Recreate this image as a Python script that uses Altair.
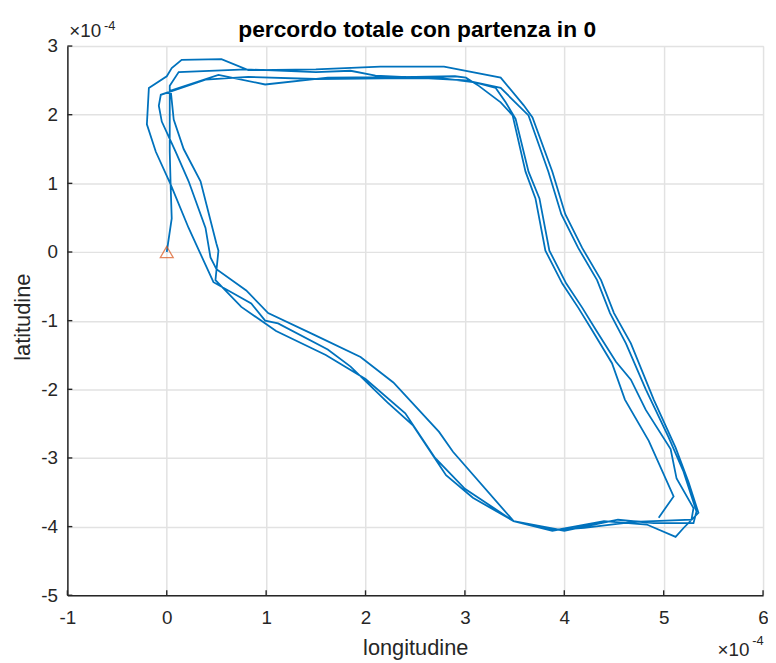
import altair as alt
import pandas as pd

# trajectory (units of 1e-4 degrees)
lon = [
    0.00, 0.05, 0.04, 0.03, 0.03, 0.03,
    0.12, 0.80, 1.50, 1.85, 2.10, 2.78, 3.01, 3.36,
    3.64, 3.84, 3.97, 4.14, 4.33, 4.46, 4.62, 4.82, 5.05, 5.20, 5.33,
    5.30, 4.90, 4.54, 4.00, 3.49,
    3.08, 2.81, 2.48, 2.22, 1.85, 1.62, 1.12, 0.99, 0.85, 0.47,
    0.22, 0.04, -0.11, -0.20, -0.18, 0.00, 0.05,
    0.15, 0.55, 0.82, 1.50, 2.15, 2.79, 3.36,
    3.59, 3.68, 3.88, 4.01, 4.18, 4.37, 4.50, 4.67, 4.90, 5.12, 5.25, 5.35,
    5.20, 5.12, 4.83, 4.40, 3.88, 3.49,
    2.88, 2.74, 2.28, 1.95, 1.49, 1.02, 0.80, 0.50,
    0.44, 0.39, 0.22, 0.09, -0.05, -0.08, -0.06,
    0.39, 0.82, 1.50, 2.20, 2.78, 3.10, 3.31,
    3.41, 3.51, 3.64, 3.75, 3.85, 4.02, 4.18, 4.32, 4.52, 4.67, 4.82, 5.07, 5.13, 5.30,
    5.28, 4.70, 4.20, 3.90, 3.49,
    3.00, 2.70, 2.40, 2.00, 1.60, 1.10, 0.75, 0.49,
    0.52, 0.50, 0.34, 0.17, 0.07, 0.04,
    0.52, 0.99, 1.62, 2.50, 2.90, 3.01,
    3.14, 3.36, 3.48, 3.61, 3.71, 3.81, 3.98, 4.14, 4.28, 4.48, 4.61, 4.85, 5.10, 4.95,
]
lat = [
    0.00, 0.49, 0.93, 1.46, 2.00, 2.42,
    2.62, 2.66, 2.62, 2.64, 2.57, 2.52, 2.50, 2.39,
    1.99, 1.17, 0.55, 0.06, -0.41, -0.89, -1.33, -2.00, -2.70, -3.20, -3.78,
    -3.95, -3.95, -3.90, -4.06, -3.92,
    -3.58, -3.25, -2.53, -2.19, -1.67, -1.42, -1.04, -1.00, -0.75, -0.44,
    0.35, 0.98, 1.46, 1.86, 2.39, 2.56, 2.68,
    2.80, 2.81, 2.65, 2.66, 2.70, 2.70, 2.54,
    2.14, 1.96, 1.17, 0.55, 0.06, -0.41, -0.89, -1.33, -2.15, -2.85, -3.35, -3.80,
    -4.02, -4.15, -3.97, -3.92, -4.06, -3.92,
    -2.91, -2.62, -1.90, -1.53, -1.21, -0.89, -0.56, -0.25,
    -0.08, 0.35, 1.03, 1.46, 1.90, 2.13, 2.29,
    2.51, 2.55, 2.52, 2.53, 2.53, 2.47, 2.39,
    2.18, 1.94, 1.17, 0.78, 0.02, -0.46, -0.81, -1.14, -1.60, -1.86, -2.30, -2.87, -3.30, -3.73,
    -3.90, -3.93, -4.02, -4.05, -3.92,
    -3.45, -3.00, -2.35, -1.85, -1.50, -1.15, -0.80, -0.41,
    0.02, 0.12, 1.03, 1.50, 1.93, 2.35,
    2.58, 2.44, 2.54, 2.55, 2.56, 2.54,
    2.42, 2.18, 1.99, 1.17, 0.78, 0.02, -0.46, -0.81, -1.14, -1.62, -2.15, -2.75, -3.56, -3.87,
]
start_lon = [0.0]
start_lat = [0.0]

x_ticks = [-1, 0, 1, 2, 3, 4, 5, 6]
y_ticks = [-5, -4, -3, -2, -1, 0, 1, 2, 3]

title_text = ["percordo totale con partenza in 0"]
x_title = "longitudine"
y_title = "latitudine"
exp_base = ["×10"]
exp_pow = ["-4"]

FONT = "Liberation Sans"
AX = "#262626"
W, H = 703, 555

df = pd.DataFrame({"i": list(range(len(lon))), "lon": lon, "lat": lat})
df_start = pd.DataFrame({"lon": start_lon, "lat": start_lat})
df_xt = pd.DataFrame({"v": x_ticks})
df_yt = pd.DataFrame({"v": y_ticks})
df_b = pd.DataFrame({"t": exp_base})
df_p = pd.DataFrame({"t": exp_pow})
df_title = pd.DataFrame({"t": title_text})

xscale = alt.Scale(domain=[-1, 6], nice=False, zero=False)
yscale = alt.Scale(domain=[-5, 3], nice=False, zero=False)

xaxis = alt.Axis(
    values=x_ticks, grid=True, gridColor="#e2e2e2", gridWidth=1.5,
    domainColor=AX, domainWidth=1.5, ticks=False, tickSize=0,
    labelFont=FONT, labelFontSize=19, labelColor=AX, labelPadding=14,
    labelFlush=False, labelOverlap=False, labelExpr="'' + datum.value",
    title=x_title, titleFont=FONT, titleFontSize=22, titleFontWeight="normal",
    titleColor=AX, titleX=W / 2, titleY=60, titleBaseline="alphabetic", titleAlign="center",
)
yaxis = alt.Axis(
    values=y_ticks, grid=True, gridColor="#e2e2e2", gridWidth=1.5,
    domainColor=AX, domainWidth=1.5, ticks=False, tickSize=0,
    labelFont=FONT, labelFontSize=19, labelColor=AX, labelPadding=10,
    labelFlush=False, labelOverlap=False, labelExpr="'' + datum.value",
    title=y_title, titleFont=FONT, titleFontSize=22, titleFontWeight="normal",
    titleColor=AX, titleX=-38, titleY=H / 2 - 4, titleAngle=270,
    titleBaseline="alphabetic", titleAlign="center",
)

path = alt.Chart(df).mark_line(color="#0072BD", strokeWidth=1.8).encode(
    x=alt.X("lon:Q", scale=xscale, axis=xaxis),
    y=alt.Y("lat:Q", scale=yscale, axis=yaxis),
    order="i:Q",
)

start = alt.Chart(df_start).mark_point(
    shape="triangle-up", filled=False, color="#D95319", size=170, strokeWidth=1.3
).encode(x=alt.X("lon:Q", scale=xscale), y=alt.Y("lat:Q", scale=yscale))

xt = alt.Chart(df_xt).mark_rule(color=AX, strokeWidth=1.4).encode(
    x=alt.X("v:Q", scale=xscale), y=alt.value(H), y2=alt.value(H - 5)
)
yt = alt.Chart(df_yt).mark_rule(color=AX, strokeWidth=1.4).encode(
    y=alt.Y("v:Q", scale=yscale), x=alt.value(0), x2=alt.value(5)
)

title = alt.Chart(df_title).mark_text(
    font=FONT, fontSize=23, fontWeight="bold", color="#000000",
    align="center", baseline="alphabetic"
).encode(text="t:N", x=alt.value(W / 2 + 2), y=alt.value(-9))

tl_base = alt.Chart(df_b).mark_text(
    font=FONT, fontSize=19, color=AX, align="left", baseline="alphabetic"
).encode(text="t:N", x=alt.value(2), y=alt.value(-9))
tl_pow = alt.Chart(df_p).mark_text(
    font=FONT, fontSize=13, color=AX, align="left", baseline="alphabetic"
).encode(text="t:N", x=alt.value(37), y=alt.value(-16))
br_base = alt.Chart(df_b).mark_text(
    font=FONT, fontSize=19, color=AX, align="left", baseline="alphabetic"
).encode(text="t:N", x=alt.value(657), y=alt.value(616))
br_pow = alt.Chart(df_p).mark_text(
    font=FONT, fontSize=13, color=AX, align="left", baseline="alphabetic"
).encode(text="t:N", x=alt.value(692), y=alt.value(605))

chart = alt.layer(path, start, xt, yt, title, tl_base, tl_pow, br_base, br_pow).properties(
    width=W, height=H,
    autosize=alt.AutoSizeParams(type="none"),
    padding={"left": 60, "top": 35, "right": 5, "bottom": 65},
).configure_view(stroke=None).configure(background="white")

chart.save("out.html", embed_options={"renderer": "svg", "actions": False})
